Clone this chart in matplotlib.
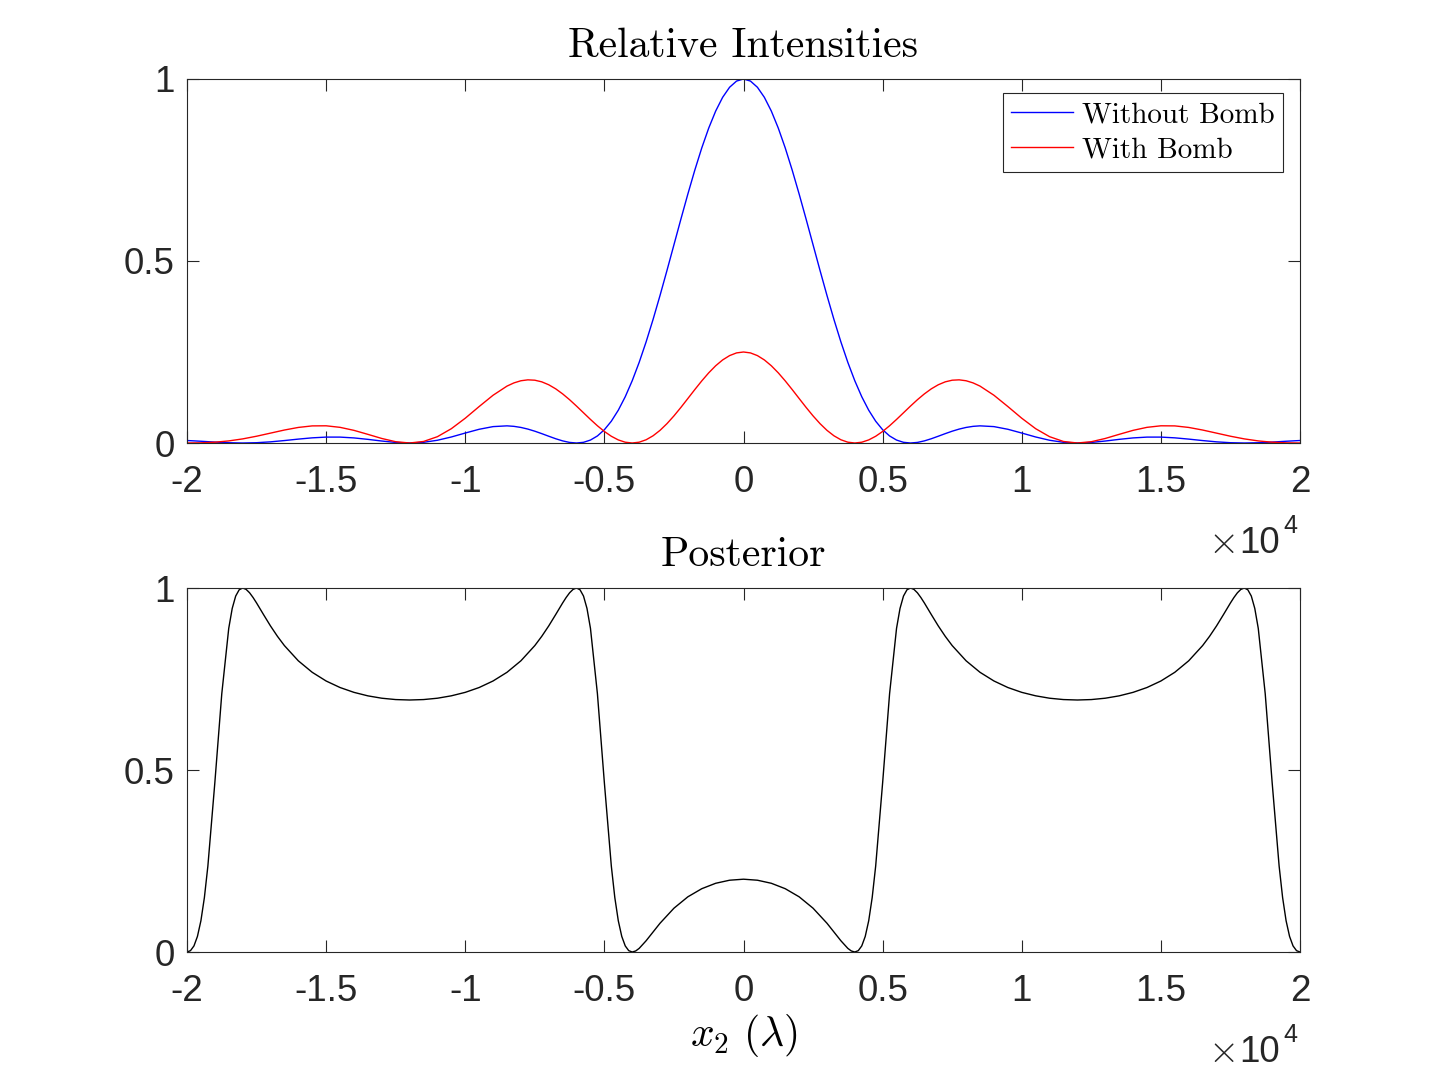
import matplotlib
matplotlib.use("Agg")
import matplotlib.pyplot as plt

# Data (x in wavelengths)
x_int = [-20000, -19500, -19000, -18500, -18000, -17500, -17000, -16500, -16000,
         -15500, -15000, -14500, -14000, -13500, -13000, -12500, -12000, -11500,
         -11000, -10500, -10000, -9500, -9000, -8500,
         -8250, -8000, -7750, -7500, -7250, -7000, -6750, -6500, -6250, -6000,
         -5750, -5500, -5250, -5000, -4750, -4500, -4250, -4000, -3750, -3500,
         -3250, -3000, -2750, -2500, -2250, -2000, -1750, -1500, -1250, -1000,
         -750, -500, -250,
         0,
         250, 500, 750, 1000, 1250, 1500, 1750, 2000, 2250, 2500, 2750, 3000,
         3250, 3500, 3750, 4000, 4250, 4500, 4750, 5000, 5250, 5500, 5750, 6000,
         6250, 6500, 6750, 7000, 7250, 7500, 7750, 8000, 8250,
         8500, 9000, 9500, 10000, 10500, 11000, 11500, 12000, 12500, 13000, 13500,
         14000, 14500, 15000, 15500, 16000, 16500, 17000, 17500, 18000, 18500,
         19000, 19500, 20000]

without_bomb = [0.00684, 0.00480, 0.00253, 0.00071, 0.0, 0.00080, 0.00316, 0.00670,
                0.01069, 0.01417, 0.01621, 0.01619, 0.01396, 0.01001, 0.00540,
                0.00156, 0.0, 0.00185, 0.00754, 0.01654, 0.02736, 0.03771, 0.04503,
                0.04711,
                0.04574, 0.04275, 0.03822, 0.03242, 0.02572, 0.01861, 0.01172,
                0.00578, 0.00159, 0.0, 0.00188, 0.00808, 0.01938, 0.03648, 0.05989,
                0.09006, 0.12710, 0.1710, 0.22140, 0.2778, 0.33945, 0.4053, 0.47410,
                0.5445, 0.61499, 0.6839, 0.74965, 0.8106, 0.86512, 0.9119, 0.94965,
                0.9773, 0.99430,
                1.0,
                0.99430, 0.9773, 0.94965, 0.9119, 0.86512, 0.8106, 0.74965, 0.6839,
                0.61499, 0.5445, 0.47410, 0.4053, 0.33945, 0.2778, 0.22140, 0.1710,
                0.12710, 0.09006, 0.05989, 0.03648, 0.01938, 0.00808, 0.00188, 0.0,
                0.00159, 0.00578, 0.01172, 0.01861, 0.02572, 0.03242, 0.03822,
                0.04275, 0.04574,
                0.04711, 0.04503, 0.03771, 0.02736, 0.01654, 0.00754, 0.00185, 0.0,
                0.00156, 0.00540, 0.01001, 0.01396, 0.01619, 0.01621, 0.01417,
                0.01069, 0.00670, 0.00316, 0.00080, 0.0, 0.00071, 0.00253, 0.00480,
                0.00684]

with_bomb = [0.0, 0.00045, 0.00219, 0.00572, 0.01126, 0.01862, 0.02712, 0.03564,
             0.04275, 0.04699, 0.04725, 0.04302, 0.03473, 0.02377, 0.01243, 0.00354,
             0.0, 0.00418, 0.01735, 0.03930, 0.06806, 0.1002, 0.1312, 0.1563,
             0.16513, 0.1710, 0.17350, 0.1725, 0.1680, 0.1600, 0.14883, 0.1349,
             0.1189, 0.1013, 0.08300, 0.06473, 0.04734, 0.03167, 0.01849, 0.00847,
             0.00216, 0.0, 0.00222, 0.00887, 0.01983, 0.03476, 0.05320, 0.07446,
             0.09774, 0.1222, 0.14679, 0.1706, 0.19272, 0.2122, 0.22820, 0.2401,
             0.24751,
             0.25,
             0.24751, 0.2401, 0.22820, 0.2122, 0.19272, 0.1706, 0.14679, 0.1222,
             0.09774, 0.07446, 0.05320, 0.03476, 0.01983, 0.00887, 0.00222, 0.0,
             0.00216, 0.00847, 0.01849, 0.03167, 0.04734, 0.06473, 0.08300, 0.1013,
             0.1189, 0.1349, 0.14883, 0.1600, 0.1680, 0.1725, 0.17350, 0.1710,
             0.16513,
             0.1563, 0.1312, 0.1002, 0.06806, 0.03930, 0.01735, 0.00418, 0.0,
             0.00354, 0.01243, 0.02377, 0.03473, 0.04302, 0.04725, 0.04699, 0.04275,
             0.03564, 0.02712, 0.01862, 0.01126, 0.00572, 0.00219, 0.00045, 0.0]

x_post = [-20000, -19875, -19750, -19625, -19500, -19375, -19250, -19000, -18750,
          -18500, -18375, -18250, -18125, -18000, -17875, -17750, -17625, -17500,
          -17250, -17000, -16750, -16500, -16000, -15500, -15000, -14500, -14000,
          -13500, -13000, -12500, -12000, -11500, -11000, -10500, -10000, -9500,
          -9000, -8500, -8000, -7500, -7250, -7000, -6750, -6500, -6375, -6250,
          -6125, -6000, -5875, -5750, -5625, -5500, -5250, -5000, -4750, -4625,
          -4500, -4375, -4250, -4125, -4000, -3875, -3750, -3500, -3000, -2500,
          -2000, -1500, -1000, -500,
          0,
          500, 1000, 1500, 2000, 2500, 3000, 3500, 3750, 3875, 4000, 4125, 4250,
          4375, 4500, 4625, 4750, 5000, 5250, 5500, 5625, 5750, 5875, 6000, 6125,
          6250, 6375, 6500, 6750, 7000, 7250, 7500, 8000, 8500, 9000, 9500, 10000,
          10500, 11000, 11500, 12000, 12500, 13000, 13500, 14000, 14500, 15000,
          15500, 16000, 16500, 16750, 17000, 17250, 17500, 17625, 17750, 17875,
          18000, 18125, 18250, 18375, 18500, 18750, 19000, 19250, 19375, 19500,
          19625, 19750, 19875, 20000]

posterior = [0.0, 0.0037, 0.0167, 0.0428, 0.0859, 0.1496, 0.2359, 0.4646, 0.7095,
             0.8891, 0.9439, 0.9779, 0.9951, 1.0, 0.9962, 0.9868, 0.9738, 0.9589,
             0.9270, 0.8958, 0.8673, 0.8418, 0.8000, 0.7684, 0.7445, 0.7266, 0.7133,
             0.7037, 0.6972, 0.6935, 0.6923, 0.6935, 0.6972, 0.7038, 0.7133, 0.7266,
             0.7446, 0.7684, 0.8000, 0.8418, 0.8673, 0.8958, 0.9270, 0.9589, 0.9738,
             0.9868, 0.9962, 1.0, 0.9951, 0.9779, 0.9439, 0.8891, 0.7095, 0.4647,
             0.2359, 0.1496, 0.0859, 0.0428, 0.0167, 0.0037, 0.0, 0.0028, 0.0099,
             0.0309, 0.0790, 0.1203, 0.1516, 0.1739, 0.1888, 0.1972,
             0.2,
             0.1972, 0.1888, 0.1739, 0.1516, 0.1203, 0.0790, 0.0309, 0.0099, 0.0028,
             0.0, 0.0037, 0.0167, 0.0428, 0.0859, 0.1496, 0.2359, 0.4647, 0.7095,
             0.8891, 0.9439, 0.9779, 0.9951, 1.0, 0.9962, 0.9868, 0.9738, 0.9589,
             0.9270, 0.8958, 0.8673, 0.8418, 0.8000, 0.7684, 0.7446, 0.7266, 0.7133,
             0.7038, 0.6972, 0.6935, 0.6923, 0.6935, 0.6972, 0.7037, 0.7133, 0.7266,
             0.7445, 0.7684, 0.8000, 0.8418, 0.8673, 0.8958, 0.9270, 0.9589, 0.9738,
             0.9868, 0.9962, 1.0, 0.9951, 0.9779, 0.9439, 0.8891, 0.7095, 0.4646,
             0.2359, 0.1496, 0.0859, 0.0428, 0.0167, 0.0037, 0.0]

xticks = [-20000, -15000, -10000, -5000, 0, 5000, 10000, 15000, 20000]
xticklabels = ['-2', '-1.5', '-1', '-0.5', '0', '0.5', '1', '1.5', '2']
yticks = [0, 0.5, 1]
yticklabels = ['0', '0.5', '1']

plt.rcParams['font.family'] = ['Liberation Sans', 'DejaVu Sans']
plt.rcParams['mathtext.fontset'] = 'cm'
axis_gray = '#262626'
serif = 'cmr10'
W, H = 1436, 1070

fig = plt.figure(figsize=(W / 100, H / 100), dpi=100)
ax1 = fig.add_axes([187 / W, 1 - 443 / H, 1113 / W, 364 / H])
ax2 = fig.add_axes([187 / W, 1 - 952 / H, 1113 / W, 364 / H])


def style_axes(ax, bottom_px):
    ax.set_xlim(-20000, 20000)
    ax.set_ylim(0, 1)
    ax.set_xticks(xticks)
    ax.set_xticklabels(xticklabels)
    ax.set_yticks(yticks)
    ax.set_yticklabels(yticklabels)
    ax.tick_params(direction='in', length=8.5, width=0.8, colors=axis_gray,
                   labelsize=26.5, top=True, right=True)
    ax.tick_params(axis='x', pad=16)
    ax.tick_params(axis='y', pad=9)
    for s in ax.spines.values():
        s.set_color(axis_gray)
        s.set_linewidth(0.8)
    # MATLAB-style exponent label below the right end of the x axis
    base = bottom_px + 110
    fig.text(1235 / W, 1 - base / H, r'$\times$', ha='right', va='baseline',
             fontsize=28, color=axis_gray)
    fig.text(1239 / W, 1 - base / H, '10', ha='left', va='baseline',
             fontsize=26.5, color=axis_gray)
    fig.text(1283 / W, 1 - (base - 20) / H, '4', ha='left', va='baseline',
             fontsize=18, color=axis_gray)


ax1.plot(x_int, without_bomb, color='blue', lw=1.0, label='Without Bomb')
ax1.plot(x_int, with_bomb, color='red', lw=1.0, label='With Bomb')
style_axes(ax1, 443)
ax1.set_title('Relative Intensities', fontsize=30, family=serif, pad=16)
leg = ax1.legend(loc='upper right', bbox_to_anchor=(1283 / W, 1 - 93 / H),
                 bbox_transform=fig.transFigure, borderaxespad=0,
                 prop={'family': serif, 'size': 21},
                 fancybox=False, framealpha=1, edgecolor=axis_gray,
                 handlelength=2.13, handletextpad=0.28,
                 labelspacing=0.3, borderpad=0.3)
leg.get_frame().set_linewidth(0.8)

ax2.plot(x_post, posterior, color='black', lw=1.0)
style_axes(ax2, 952)
ax2.set_title('Posterior', fontsize=30, family=serif, pad=16)
ax2.set_xlabel(r'$x_2\ (\lambda)$', fontsize=30, labelpad=2)

fig.savefig('out.png', dpi=100)
